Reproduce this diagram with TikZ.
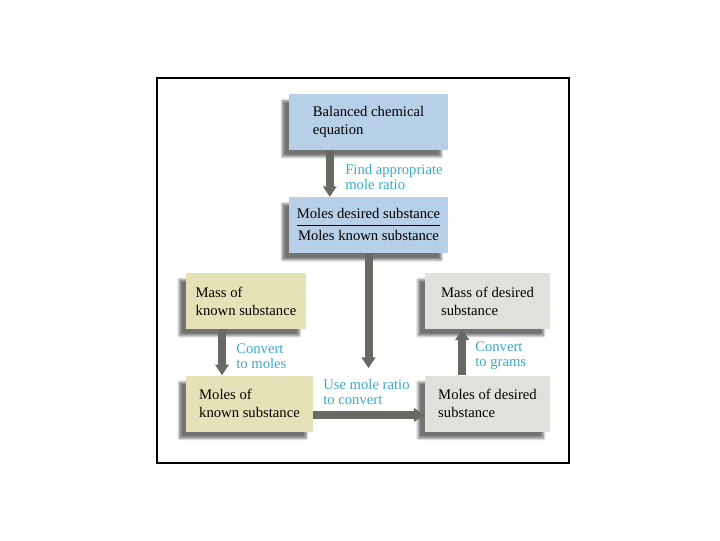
\documentclass[tikz,border=0pt]{standalone}
\usepackage{fontspec}
\setmainfont{Liberation Serif}
\usetikzlibrary{arrows.meta,positioning,shadows.blur}
\definecolor{blufill}{RGB}{184,207,232}
\definecolor{yelfill}{RGB}{230,226,183}
\definecolor{gryfill}{RGB}{225,225,219}
\definecolor{labcol}{RGB}{58,168,200}
\definecolor{arcol}{RGB}{105,105,100}
\setlength\arrayrulewidth{0.8pt}
\tikzset{
  box/.style   ={rectangle, minimum height=42pt, align=left, inner sep=0pt,
                 font=\fontsize{11}{13.5}\selectfont,
                 blur shadow={shadow xshift=-5pt, shadow yshift=-5pt,
                              shadow blur steps=6, shadow opacity=55}},
  blubox/.style={box, fill=blufill, minimum width=119pt},
  yelbox/.style={box, fill=yelfill},
  grybox/.style={box, fill=gryfill, minimum width=94pt},
  lab/.style   ={anchor=west, align=left, inner sep=0pt, text=labcol,
                 font=\fontsize{11}{11.5}\selectfont},
  ar/.style    ={-{Triangle[length=8pt,width=10pt]}, line width=6pt, draw=arcol},
}
\begin{document}
\begin{tikzpicture}[x=0.75pt,y=-0.75pt]
\useasboundingbox (0,0) rectangle (720,540);
\draw[line width=0.8pt] (157,78) rectangle (569,463);

\node[blubox] (bal) at (368.5,122) {Balanced chemical\\equation};
\node[blubox, below=35pt of bal] (ratio)
  {\def\arraystretch{1.15}\begin{tabular}{@{}c@{}}Moles desired substance\\\hline Moles known substance\end{tabular}};
\node[yelbox, minimum width=90pt] (massk) at (246,301) {Mass of\\known substance};
\node[yelbox, minimum width=95pt] (molk) at (249.5,403.5) {Moles of\\known substance};
\node[grybox] (massd) at (487.5,301) {Mass of desired\\substance};
\node[grybox] (mold) at (487.5,403.5) {Moles of desired\\substance};
\coordinate[below=86pt of ratio.south] (aim);

\draw[ar] ([xshift=-29pt]bal.south) -- ([xshift=-29pt]bal.south |- ratio.north);
\draw[ar] (ratio.south) -- (aim);
\draw[ar] ([xshift=-18pt]massk.south) -- ([xshift=-18pt]massk.south |- molk.north);
\draw[ar] ([yshift=-8.6pt]molk.east) -- ([yshift=-8.6pt]molk.east -| mold.west);
\draw[ar] ([xshift=-19pt]mold.north) -- ([xshift=-19pt]mold.north |- massd.south);

\node[lab] (findlab) at (345,177) {Find appropriate\\mole ratio};
\node[lab] (tomol) at (236,356) {Convert\\to moles};
\node[lab] (togram) at (475,356) {Convert\\to grams};
\node[lab] (uselab) at (323,392) {Use mole ratio\\to convert};
\end{tikzpicture}
\end{document}
